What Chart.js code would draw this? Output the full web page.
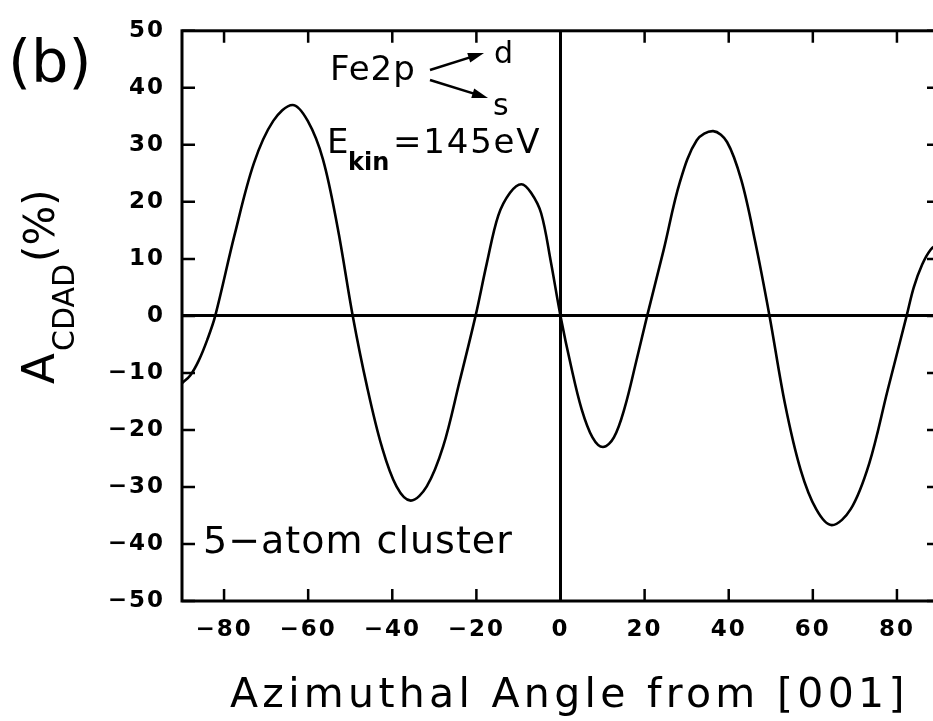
<!DOCTYPE html>
<html>
<head>
<meta charset="utf-8">
<script src="https://cdn.jsdelivr.net/npm/chart.js@4.4.1/dist/chart.umd.min.js"></script>
<style>
  html, body { margin: 0; padding: 0; background: #fff; overflow: hidden; }
  canvas { display: block; }
</style>
</head>
<body>
<canvas id="cdad_chart" width="945" height="721"></canvas>
<script>
// azimuthal angle (deg) and A_CDAD (%)
const angle = [-90, -88, -86, -84, -82.1, -77.5, -72.9, -68.3, -63.7, -60.1, -56.5, -53, -49.4,
  -46, -42.5, -39, -35.6, -31.8, -27.9, -24, -20.2, -17.5, -14.8, -12, -9.3, -7, -4.6, -2.3, 0,
  2.5, 5, 7.6, 10.1, 12.7, 15.3, 18, 20.6, 24.5, 28.4, 32.4, 36.3, 39.6, 43, 46.3, 49.7,
  53.4, 57.1, 60.8, 64.5, 69, 73.4, 77.8, 82.3, 84, 86, 88, 90];
const acdad = [-11.8, -10.4, -7.8, -4.2, 0, 14.2, 26.8, 34.2, 37, 34.2, 27.5, 15.5, 0,
  -12.4, -22.9, -29.9, -32.4, -29.9, -22.9, -11.5, 0, 9.3, 17.6, 21.6, 23.1, 21.6, 18, 9.5, 0,
  -8.8, -16.3, -21.3, -23, -21.3, -16, -8, 0, 11.5, 23.5, 30.8, 32.4, 30.5, 23.8, 13, 0,
  -15.5, -27, -33.9, -36.7, -33.9, -25.9, -13, 0, 5, 9, 11.6, 12.8];

const xTicks = [-80, -60, -40, -20, 0, 20, 40, 60, 80];
const yTicks = [-50, -40, -30, -20, -10, 0, 10, 20, 30, 40, 50];

const points = angle.map(function(a, i) { return { x: a, y: acdad[i] }; });

function fmt(v) { return v < 0 ? '\u2212' + Math.abs(v) : String(v); }

function zeroLine(c) { return (c.tick && c.tick.value === 0) ? '#000' : 'rgba(0,0,0,0)'; }

function txt(ctx, s, x, y, font, spacing) {
	ctx.font = font;
	ctx.letterSpacing = (spacing || 0) + 'px';
	ctx.fillText(s, x, y);
}

function arrow(ctx, x1, y1, x2, y2) {
	const a = Math.atan2(y2 - y1, x2 - x1);
	ctx.beginPath();
	ctx.moveTo(x1, y1);
	ctx.lineTo(x2 - 8 * Math.cos(a), y2 - 8 * Math.sin(a));
	ctx.stroke();
	ctx.beginPath();
	ctx.moveTo(x2, y2);
	ctx.lineTo(x2 - 16 * Math.cos(a) + 5 * Math.sin(a), y2 - 16 * Math.sin(a) - 5 * Math.cos(a));
	ctx.lineTo(x2 - 16 * Math.cos(a) - 5 * Math.sin(a), y2 - 16 * Math.sin(a) + 5 * Math.cos(a));
	ctx.closePath();
	ctx.fill();
}

// frame, inward ticks and all the labels
const framePlugin = {
	id: 'frame',
	beforeDraw: function(chart) {
		chart.ctx.letterSpacing = '2px';
	},
	afterDraw: function(chart) {
		const ctx = chart.ctx;
		const ca = chart.chartArea;
		const sx = chart.scales.x, sy = chart.scales.y;
		ctx.save();
		ctx.strokeStyle = '#000';
		ctx.fillStyle = '#000';
		ctx.lineWidth = 3;
		ctx.strokeRect(ca.left, ca.top, ca.right - ca.left, ca.bottom - ca.top);

		ctx.lineWidth = 2.5;
		ctx.beginPath();
		sx.ticks.forEach(function(t) {
			const px = sx.getPixelForValue(t.value);
			ctx.moveTo(px, ca.bottom); ctx.lineTo(px, ca.bottom - 12);
			ctx.moveTo(px, ca.top); ctx.lineTo(px, ca.top + 12);
		});
		sy.ticks.forEach(function(t) {
			const py = sy.getPixelForValue(t.value);
			ctx.moveTo(ca.left, py); ctx.lineTo(ca.left + 13, py);
			ctx.moveTo(ca.right, py); ctx.lineTo(ca.right - 12, py);
		});
		ctx.stroke();

		ctx.textBaseline = 'alphabetic';
		ctx.textAlign = 'left';

		// panel letter
		txt(ctx, '(b)', 8, 82, '59px "DejaVu Sans"', 0);

		// x axis title
		txt(ctx, 'Azimuthal Angle from [001]', 230, 707, '41px "DejaVu Sans"', 4.3);

		// y axis title, rotated with subscript
		ctx.save();
		ctx.translate(54, 384);
		ctx.rotate(-Math.PI / 2);
		txt(ctx, 'A', 0, 0, '45px "DejaVu Sans"', 0);
		txt(ctx, 'CDAD', 33, 20, '30px "DejaVu Sans"', 0);
		txt(ctx, '(%)', 122, 0, '42px "DejaVu Sans"', 0);
		ctx.restore();

		// Fe2p -> d / s
		txt(ctx, 'Fe2p', 330, 80, '34px "DejaVu Sans"', 1);
		txt(ctx, 'd', 494, 63, '30px "DejaVu Sans"', 0);
		txt(ctx, 's', 493, 115, '30px "DejaVu Sans"', 0);
		ctx.lineWidth = 2.5;
		arrow(ctx, 430, 70, 484, 53);
		arrow(ctx, 430, 80, 488, 98);

		// E_kin = 145eV
		txt(ctx, 'E', 327, 153, '34px "DejaVu Sans"', 0);
		txt(ctx, 'kin', 348, 170, 'bold 24px "DejaVu Sans"', 0);
		txt(ctx, '=145eV', 393, 153, '34px "DejaVu Sans"', 1.8);

		txt(ctx, '5\u2212atom cluster', 203, 553, '38px "DejaVu Sans"', 1);
		ctx.restore();
	}
};

new Chart(document.getElementById('cdad_chart'), {
	type: 'line',
	data: {
		datasets: [{
			data: points,
			borderColor: '#000',
			borderWidth: 2.6,
			pointRadius: 0,
			fill: false,
			tension: 0.35
		}]
	},
	options: {
		responsive: false,
		animation: false,
		layout: { padding: { left: 0, right: 6, top: 23, bottom: 0 } },
		plugins: { legend: { display: false }, tooltip: { enabled: false } },
		scales: {
			x: {
				type: 'linear',
				min: -90,
				max: 90,
				afterBuildTicks: function(s) { s.ticks = xTicks.map(function(v) { return { value: v }; }); },
				afterFit: function(s) { s.height = 120; },
				border: { display: false },
				grid: { drawTicks: false, color: zeroLine, lineWidth: 3 },
				ticks: {
					color: '#000',
					padding: 15,
					autoSkip: false,
					maxRotation: 0,
					font: { family: 'DejaVu Sans', size: 23, weight: 'bold' },
					callback: fmt
				}
			},
			y: {
				type: 'linear',
				min: -50,
				max: 50,
				afterBuildTicks: function(s) { s.ticks = yTicks.map(function(v) { return { value: v }; }); },
				afterFit: function(s) { s.width = 182; },
				border: { display: false },
				grid: { drawTicks: false, color: zeroLine, lineWidth: 3 },
				ticks: {
					color: '#000',
					padding: 17,
					autoSkip: false,
					font: { family: 'DejaVu Sans', size: 23, weight: 'bold' },
					callback: fmt
				}
			}
		}
	},
	plugins: [framePlugin]
});
</script>
</body>
</html>
